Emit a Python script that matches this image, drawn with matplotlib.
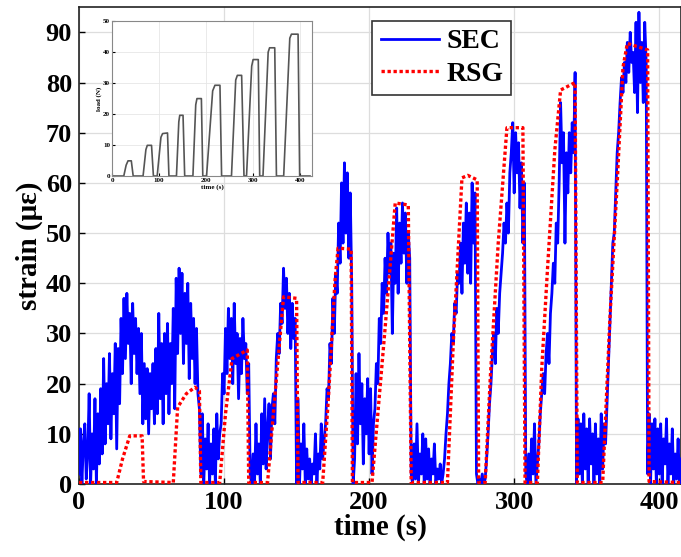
import numpy as np
import matplotlib
matplotlib.use("Agg")
import matplotlib.pyplot as plt

# ---------------- data ----------------
# SEC strain signal, one reading per second from t = 0 s
sec_start = 0
sec_values = [
    2, 11, 0, 8, 12, 1, 6, 18, 0, 10,
    3, 17, 0, 14, 4, 19, 6, 25, 8, 20,
    12, 26, 9, 22, 14, 28, 7, 27, 16, 33,
    22, 37, 25, 38, 28, 34, 20, 36, 26, 33,
    22, 31, 18, 30, 12, 24, 13, 23, 10, 22,
    15, 24, 12, 27, 14, 34, 17, 28, 12, 30,
    18, 32, 14, 28, 20, 35, 15, 41, 26, 43,
    30, 42, 24, 38, 28, 40, 21, 36, 25, 33,
    20, 31, 18, 15, 2, 14, 0, 9, 3, 12,
    0, 8, 2, 11, 0, 14, 5, 10, 12, 22,
    18, 31, 22, 35, 25, 33, 20, 36, 24, 30,
    17, 29, 22, 33, 25, 28, 18, 24, 2, 0,
    6, 0, 12, 2, 8, 0, 14, 4, 17, 3,
    11, 16, 5, 15, 18, 12, 25, 30, 26, 36,
    32, 43, 35, 41, 30, 38, 27, 36, 29, 33,
    0, 17, 0, 8, 3, 12, 0, 7, 1, 5,
    0, 4, 2, 10, 0, 6, 3, 12, 5, 9,
    12, 19, 17, 28, 24, 37, 30, 42, 38, 52,
    44, 60, 48, 64, 50, 62, 45, 58, 40, 0,
    5, 22, 8, 26, 12, 20, 4, 17, 10, 21,
    6, 19, 2, 12, 15, 24, 20, 33, 28, 40,
    34, 45, 38, 50, 42, 48, 30, 46, 40, 55,
    38, 52, 44, 56, 46, 54, 40, 50, 45, 2,
    0, 8, 1, 12, 0, 6, 2, 10, 0, 9,
    1, 7, 0, 5, 2, 8, 0, 3, 1, 4,
    0, 2, 5, 10, 14, 20, 24, 30, 28, 36,
    34, 42, 40, 48, 38, 52, 44, 56, 42, 54,
    40, 60, 48, 58, 2, 0, 1, 0, 2, 0,
    1, 5, 10, 16, 20, 26, 30, 24, 35, 30,
    38, 42, 46, 52, 48, 56, 50, 62, 66, 72,
    58, 70, 62, 68, 55, 64, 48, 60, 2, 0,
    6, 0, 9, 2, 12, 0, 4, 8, 14, 18,
    22, 18, 26, 30, 24, 34, 38, 44, 40, 52,
    48, 60, 76, 64, 70, 48, 66, 58, 70, 62,
    72, 66, 82, 0, 13, 2, 12, 0, 14, 3,
    11, 0, 13, 4, 10, 0, 12, 2, 9, 0,
    14, 3, 12, 8, 16, 24, 32, 40, 48, 50,
    58, 66, 70, 76, 81, 78, 84, 80, 88, 82,
    90, 84, 86, 78, 92, 74, 94, 80, 88, 76,
    92, 84, 2, 14, 0, 12, 3, 13, 0, 11,
    2, 12, 0, 9, 4, 13, 0, 8, 2, 11,
    0, 6, 1, 9, 0, 5,
]
sec_time = sec_start + np.arange(len(sec_values))

# RSG reference strain gauge (time s, strain)
rsg_time = [0, 26, 30, 35, 43.5, 44.5, 65, 68, 74, 80, 83, 84, 97, 101, 105.5, 116, 117,
            130, 133, 137, 141, 150, 151, 168, 172, 176.5, 178.6, 187.6, 188.5,
            202, 206, 211, 218, 227, 229, 254, 258, 264, 268, 274.5, 275.5,
            280, 283.5, 289, 295, 306, 307.5, 316, 319, 323, 328, 332, 342, 343.5,
            361, 366, 371, 375, 378, 392, 393, 415]
rsg_strain = [0.3, 0.3, 5, 9.6, 9.6, 0.5, 0.3, 15.3, 18, 19.3, 18.5, 0.3, 0.3, 14, 25, 26.7, 0.3,
              0.3, 10.7, 24, 37.3, 37, 0.3, 0.3, 17.4, 40.6, 47, 46.8, 0.3,
              0.3, 14, 31, 56, 55.6, 0.3, 0.3, 28, 61, 61.5, 60.6, 0.3,
              0.3, 21, 48, 71, 71, 0.3, 0.3, 23, 43, 66.5, 78.5, 80, 0.3,
              0.3, 33, 60, 83, 87.8, 86.5, 0.5, 0.3]

# Inset: applied load (time s, load N)
load_time = [0, 25, 30, 34, 41, 45, 66, 72, 75, 84, 88, 96, 104, 107.5, 118, 121,
             137, 142, 144, 151, 154.5, 172, 178, 180.6, 190, 193,
             201, 214, 218.8, 229.5, 233, 254, 263, 266.5, 275.6, 280.6,
             286, 297, 300, 311, 314, 321, 332, 335, 346, 349.6,
             365, 378, 381.5, 395.6, 399, 421]
load_values = [0, 0, 3.5, 4.9, 4.9, 0, 0, 8.5, 9.9, 9.9, 0, 0, 12.5, 13.7, 13.9, 0,
               0, 17.5, 19.6, 19.6, 0, 0, 23, 25, 25, 0,
               0, 27.5, 29.3, 29.3, 0, 0, 31, 32.5, 32.5, 0,
               0, 35.5, 37.6, 37.6, 0, 0, 40, 41.4, 41.4, 0,
               0, 44.5, 45.8, 45.8, 0, 0]

x_ticks = [0, 100, 200, 300, 400]
y_ticks = [0, 10, 20, 30, 40, 50, 60, 70, 80, 90]
inset_x_ticks = [0, 100, 200, 300, 400]
inset_y_ticks = [0, 10, 20, 30, 40, 50]

# ---------------- figure ----------------
plt.rcParams['font.family'] = ['Liberation Serif', 'DejaVu Serif']
plt.rcParams['font.weight'] = 'bold'

fig = plt.figure(figsize=(6.81, 5.57), dpi=100)
ax = fig.add_axes([0.116, 0.131, 0.884, 0.856])

ax.plot(sec_time, sec_values, color='#0000ff', lw=2.0, label='SEC', zorder=3)
ax.plot(rsg_time, rsg_strain, color='#ff0000', lw=2.4, ls=(0, (1, 0.8)), label='RSG', zorder=4)

ax.set_xlim(0, 415)
ax.set_ylim(0, 95)
ax.set_xticks(x_ticks)
ax.set_yticks(y_ticks)
ax.grid(True, color='#dddddd', lw=0.9)
ax.set_axisbelow(True)
ax.tick_params(direction='in', length=4, labelsize=19, width=1, pad=5)
for lab in ax.get_xticklabels() + ax.get_yticklabels():
    lab.set_fontweight('bold')
for s in ax.spines.values():
    s.set_linewidth(1.2)
    s.set_color('#222222')
ax.set_xlabel('time (s)', fontsize=21, fontweight='bold', labelpad=0)
ax.set_ylabel('strain (με)', fontsize=21, fontweight='bold', labelpad=2)

leg = ax.legend(loc='upper left', bbox_to_anchor=(0.4875, 0.972), fontsize=20,
                frameon=True, fancybox=False, edgecolor='#333333', framealpha=1,
                handlelength=2.1, handletextpad=0.25, borderpad=0.3,
                labelspacing=0.25, borderaxespad=0)
leg.get_frame().set_linewidth(1.2)
for t in leg.get_texts():
    t.set_fontweight('bold')

# inset
ins = fig.add_axes([0.1645, 0.684, 0.2935, 0.278])
ins.plot(load_time, load_values, color='#555555', lw=1.2)
ins.set_xlim(0, 425)
ins.set_ylim(0, 50)
ins.set_xticks(inset_x_ticks)
ins.set_yticks(inset_y_ticks)
ins.grid(True, color='#e6e6e6', lw=0.6)
ins.tick_params(direction='in', length=2, labelsize=5, pad=1.5)
for s in ins.spines.values():
    s.set_linewidth(0.8)
    s.set_color('#888888')
ins.set_xlabel('time (s)', fontsize=5, fontweight='bold', labelpad=1)
ins.set_ylabel('load (N)', fontsize=5, fontweight='bold', labelpad=1)

fig.savefig('out.png', dpi=100)
